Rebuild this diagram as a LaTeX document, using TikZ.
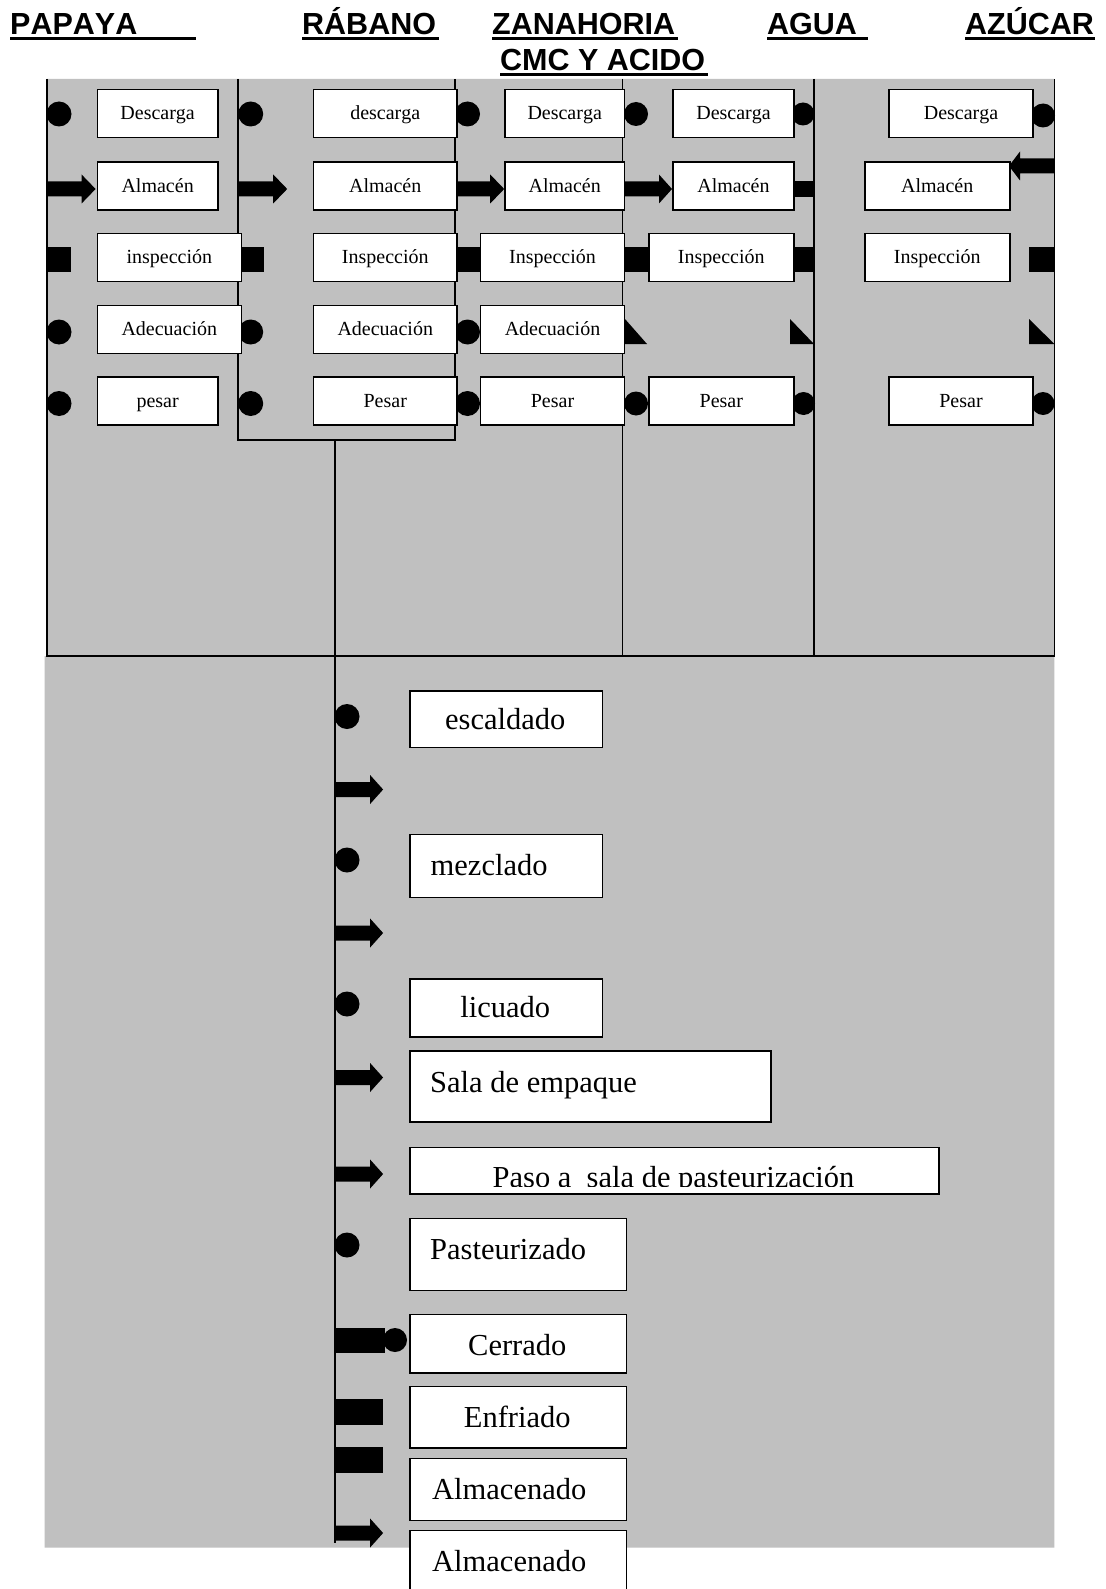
\documentclass[tikz,border=0pt]{standalone}
\usepackage{fontspec}
\setmainfont[Kerning=Off]{Liberation Serif}
\newfontfamily\hdrfont[Kerning=Off]{Liberation Sans}
\usetikzlibrary{calc}
\definecolor{gris}{RGB}{192,192,192}
\begin{document}
\begin{tikzpicture}[x=1pt,y=-1pt,
  sline/.style={line width=1.8pt},
  tbox/.style={draw, line width=1.5pt, fill=white, inner sep=0pt, minimum height=48pt,
    font=\fontsize{20}{24}\selectfont, text height=13.5pt, text depth=1pt},
  bbox/.style={draw, line width=1.5pt, fill=white, inner sep=0pt, anchor=north west},
  btxt/.style={inner sep=0pt, font=\fontsize{30.5}{36}\selectfont},
  hdr/.style={inner sep=0pt, anchor=base west, font=\hdrfont\bfseries\fontsize{30.5}{36}\selectfont},
  uline/.style={line width=3pt},
  dotsym/.style={circle, fill=black, inner sep=0pt, minimum size=25pt},
  sqsym/.style={fill=black, inner sep=0pt, minimum width=24pt, minimum height=25pt},
  pics/fatarr/.style n args={2}{code={\fill (0,-7.5) -- (#1-#2,-7.5) -- (#1-#2,-14.5) -- (#1,0) -- (#1-#2,14.5) -- (#1-#2,7.5) -- (0,7.5) -- cycle;}},
]
\useasboundingbox (0,0) rectangle (1105,1589);
\fill[white] (0,0) rectangle (1105,1589);
% gray background
\fill[gris] (46.6,79) -- (1054.4,79) -- (1054.4,1547.5) -- (44.6,1547.5) -- (44.6,656) -- (46.6,656) -- cycle;

% headers
\node[hdr] (hP) at (10,35) {PAPAYA};
\node[hdr] (hR) at (302,35) {RÁBANO};
\node[hdr] (hZ) at (492,35) {ZANAHORIA};
\node[hdr] (hA) at (767,35) {AGUA};
\node[hdr] (hS) at (965,35) {AZÚCAR};
\node[hdr] (hC) at (500,71) {CMC Y ACIDO};
\draw[uline] ($(hP.base west)+(0,4)$) -- ++(186,0);
\draw[uline] ($(hR.base west)+(0,4)$) -- ++(137,0);
\draw[uline] ($(hZ.base west)+(0,4)$) -- ++(186,0);
\draw[uline] ($(hA.base west)+(0,4)$) -- ++(101,0);
\draw[uline] ($(hS.base west)+(0,4)$) -- ++(130,0);
\draw[uline] ($(hC.base west)+(0,4)$) -- ++(208,0);

% lane lines
\draw[sline] (46.6,79) -- (46.6,656) -- (1054.4,656) -- (1054.4,79);
\draw[sline] (238.2,79) -- (238.2,440) -- (455.2,440) -- (455.2,79);
\draw[sline] (622.5,79) -- (622.5,656);
\draw[sline] (814.1,79) -- (814.1,656);
\draw[sline] (334.6,440) -- (334.6,1543);

% symbols: papaya lane
\node[dotsym] (sp1) at (59,114) {};
\pic at (46.6,189) {fatarr={49}{14}};
\node[sqsym] (sp3) at (58.6,259.5) {};
\node[dotsym] (sp4) at (59,332) {};
\node[dotsym] (sp5) at (59,403.5) {};
% rabano lane
\node[dotsym] (sr1) at (250.7,114) {};
\pic at (238.2,189) {fatarr={49}{14}};
\node[sqsym, minimum width=23pt] (sr3) at (252.5,259.5) {};
\node[dotsym] (sr4) at (250.7,332) {};
\node[dotsym] (sr5) at (250.7,403.5) {};
% zanahoria lane
\node[dotsym] (sz1) at (467.5,114) {};
\pic at (457.2,189) {fatarr={47}{14}};
\node[sqsym, minimum width=23.3pt] (sz3) at (468.9,259.5) {};
\node[dotsym] (sz4) at (467.5,332) {};
\node[dotsym] (sz5) at (467.5,403.5) {};
% agua lane, left side
\node[dotsym, minimum size=24pt] (sa1) at (636,114) {};
\pic at (625,189) {fatarr={47}{13}};
\node[sqsym, minimum width=24.3pt] (sa3) at (636.6,259.5) {};
\fill (625,319) -- (625,344) -- (647,344) -- cycle;
\node[dotsym, minimum size=24pt] (sa5) at (636,403.5) {};
% agua lane, right side
\node[dotsym, minimum size=23pt] (sb1) at (803,114) {};
\fill (793.8,181) rectangle (814.1,197);
\node[sqsym, minimum width=20.3pt] (sb3) at (804,259.5) {};
\fill (790,319) -- (790,344) -- (814,344) -- cycle;
\node[dotsym, minimum size=23pt] (sb5) at (803.5,403.5) {};
% azucar lane
\node[dotsym, minimum size=24pt] (ss1) at (1043,115.5) {};
\pic[xscale=-1] at (1054.4,166) {fatarr={45.4}{11}};
\node[sqsym, minimum width=25.4pt] (ss3) at (1041.7,259.5) {};
\fill (1029,319) -- (1029,344) -- (1054.4,344) -- cycle;
\node[dotsym, minimum size=23pt] (ss5) at (1043,403.5) {};

% top boxes
\node[tbox, minimum width=120.7pt] (p1) at (157.65,113.7) {Descarga};
\node[tbox, minimum width=120.7pt] (p2) at (157.65,186) {Almacén};
\node[tbox, minimum width=144pt] (p3) at (169.3,257.5) {inspección};
\node[tbox, minimum width=144pt] (p4) at (169.3,329.5) {Adecuación};
\node[tbox, minimum width=120.7pt] (p5) at (157.65,401) {pesar};

\node[tbox, minimum width=143.9pt] (r1) at (385.25,113.7) {descarga};
\node[tbox, minimum width=143.9pt] (r2) at (385.25,186) {Almacén};
\node[tbox, minimum width=143.9pt] (r3) at (385.25,257.5) {Inspección};
\node[tbox, minimum width=143.9pt] (r4) at (385.25,329.5) {Adecuación};
\node[tbox, minimum width=143.9pt] (r5) at (385.25,401) {Pesar};

\node[tbox, minimum width=119.6pt] (z1) at (564.7,113.7) {Descarga};
\node[tbox, minimum width=119.6pt] (z2) at (564.7,186) {Almacén};
\node[tbox, minimum width=144pt] (z3) at (552.5,257.5) {Inspección};
\node[tbox, minimum width=144pt] (z4) at (552.5,329.5) {Adecuación};
\node[tbox, minimum width=144pt] (z5) at (552.5,401) {Pesar};

\node[tbox, minimum width=120.6pt] (a1) at (733.5,113.7) {Descarga};
\node[tbox, minimum width=120.6pt] (a2) at (733.5,186) {Almacén};
\node[tbox, minimum width=145pt] (a3) at (721.3,257.5) {Inspección};
\node[tbox, minimum width=145pt] (a5) at (721.3,401) {Pesar};

\node[tbox, minimum width=144pt] (s1) at (961,113.7) {Descarga};
\node[tbox, minimum width=145pt] (s2) at (937.25,186) {Almacén};
\node[tbox, minimum width=145pt] (s3) at (937.25,257.5) {Inspección};
\node[tbox, minimum width=144pt] (s5) at (961,401) {Pesar};

% bottom symbols
\node[dotsym] (m1) at (347,716.5) {};
\pic at (334.6,789.5) {fatarr={48.5}{13}};
\node[dotsym] (m2) at (347,860) {};
\pic at (334.6,933) {fatarr={48.5}{13}};
\node[dotsym] (m3) at (347,1004) {};
\pic at (334.6,1077.5) {fatarr={48.5}{13}};
\pic at (334.6,1174) {fatarr={48.5}{13}};
\node[dotsym] (m4) at (347,1245) {};
\fill (334.6,1327.5) rectangle (385,1352.5);
\node[dotsym, minimum size=24pt] (m5) at (395,1340) {};
\fill (334.6,1399) rectangle (383,1425);
\fill (334.6,1447) rectangle (383,1473);
\pic at (334.6,1533) {fatarr={48.5}{13}};

% bottom boxes
\node[bbox, minimum width=192.7pt, minimum height=56.7pt] (esc) at (409,690) {};
\node[btxt, anchor=base] (tesc) at (505.3,729) {escaldado};
\node[bbox, minimum width=192.7pt, minimum height=63pt] (mez) at (409,833.5) {};
\node[btxt, anchor=base west] (tmez) at (430.5,875) {mezclado};
\node[bbox, minimum width=192.7pt, minimum height=58pt] (lic) at (409,978) {};
\node[btxt, anchor=base] (tlic) at (505.3,1017.5) {licuado};
\node[bbox, minimum width=361pt, minimum height=71pt] (sala) at (409,1050) {};
\node[btxt, anchor=base west] (tsala) at (430,1092) {Sala de empaque};
\node[bbox, minimum width=529pt, minimum height=46.5pt] (paso) at (409,1146.5) {};
\begin{scope}
\clip (409,1148) rectangle (938,1186.5);
\node[btxt, anchor=base] (tpaso) at (673.5,1187.5) {Paso a~ sala de pasteurización};
\end{scope}
\node[bbox, minimum width=216.5pt, minimum height=72pt] (past) at (409,1217.5) {};
\node[btxt, anchor=base west] (tpast) at (430,1259) {Pasteurizado};
\node[bbox, minimum width=216.5pt, minimum height=58.5pt] (cerr) at (409,1313.5) {};
\node[btxt, anchor=base] (tcerr) at (517.3,1355.5) {Cerrado};
\node[bbox, minimum width=216.5pt, minimum height=61.5pt] (enf) at (409,1385.7) {};
\node[btxt, anchor=base] (tenf) at (517.3,1427.5) {Enfriado};
\node[bbox, minimum width=216.5pt, minimum height=62pt] (alm1) at (409,1457.7) {};
\node[btxt, anchor=base west] (talm1) at (432,1499.5) {Almacenado};
\node[bbox, minimum width=216.5pt, minimum height=75pt] (alm2) at (409,1529.5) {};
\node[btxt, anchor=base west] (talm2) at (432,1571) {Almacenado};
\end{tikzpicture}
\end{document}
